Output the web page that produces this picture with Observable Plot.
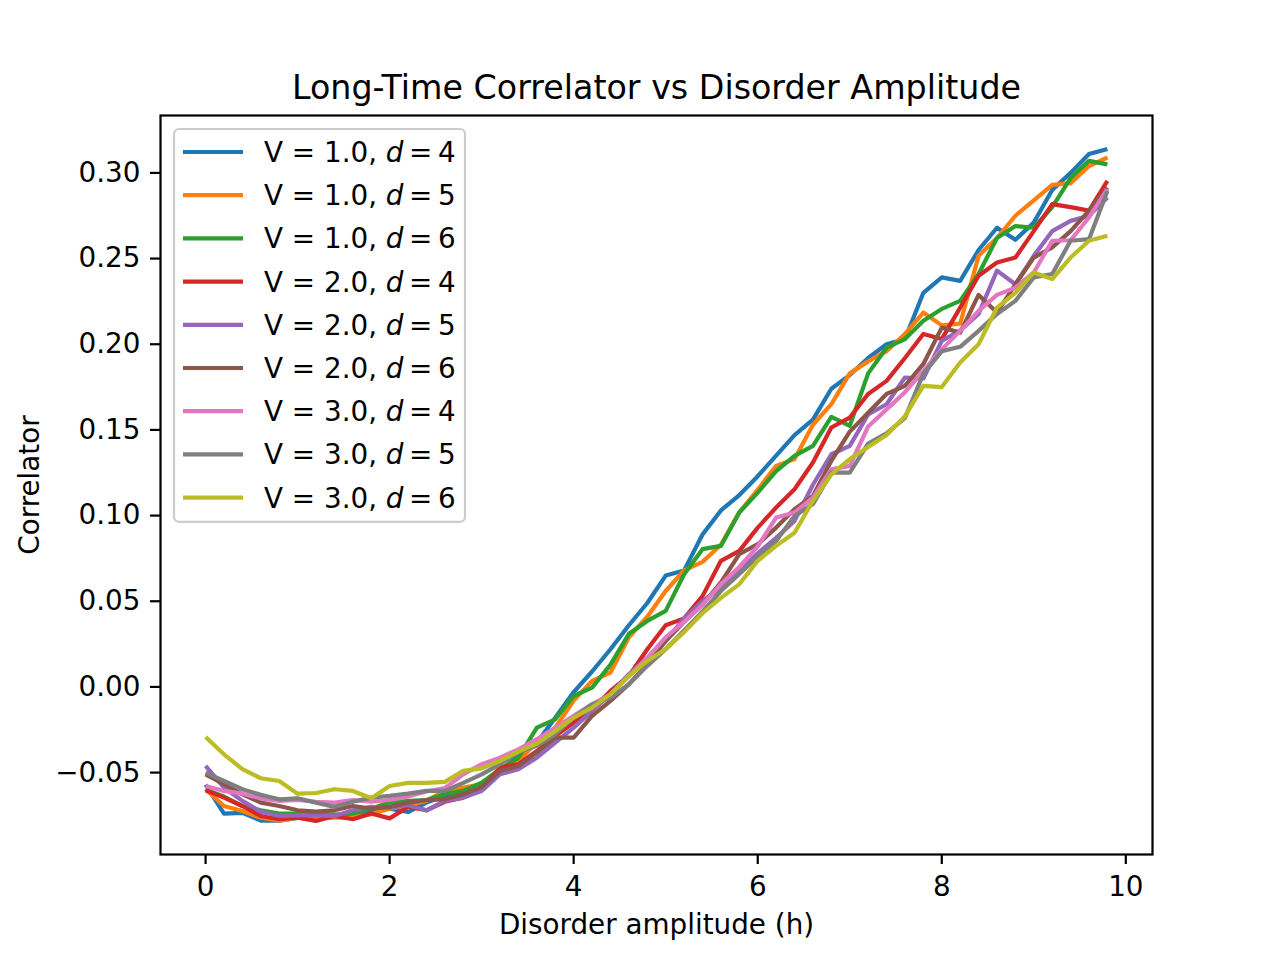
<!DOCTYPE html>
<html>
<head>
<meta charset="utf-8">
<script src="https://cdn.jsdelivr.net/npm/d3@7"></script>
<script src="https://cdn.jsdelivr.net/npm/@observablehq/plot@0.6"></script>
<style>
  html, body { margin: 0; padding: 0; background: white; }
  #chart { width: 1280px; height: 960px; }
</style>
</head>
<body>
<div id="chart"></div>
<script>
const title = "Long-Time Correlator vs Disorder Amplitude";
const xLabel = "Disorder amplitude (h)";
const yLabel = "Correlator";
const xTicks = [0, 2, 4, 6, 8, 10];
const yTicks = [-0.05, 0, 0.05, 0.10, 0.15, 0.20, 0.25, 0.30];

const hValues = d3.range(50).map(i => +(i * 0.2).toFixed(1));

const seriesV = [1.0, 1.0, 1.0, 2.0, 2.0, 2.0, 3.0, 3.0, 3.0];
const seriesD = [4, 5, 6, 4, 5, 6, 4, 5, 6];
const colors = ["#1f77b4", "#ff7f0e", "#2ca02c", "#d62728", "#9467bd", "#8c564b", "#e377c2", "#7f7f7f", "#bcbd22"];

const v1d4 = [-0.057, -0.074, -0.0735, -0.078, -0.078, -0.0765, -0.0755, -0.0755, -0.0735, -0.073,
  -0.071, -0.073, -0.0675, -0.0636, -0.061, -0.058, -0.049, -0.040, -0.0325, -0.018,
  -0.003, 0.009, 0.022, 0.036, 0.049, 0.065, 0.068, 0.089, 0.103, 0.112,
  0.123, 0.135, 0.147, 0.156, 0.174, 0.182, 0.192, 0.200, 0.203, 0.230,
  0.239, 0.237, 0.255, 0.268, 0.261, 0.271, 0.290, 0.300, 0.311, 0.314];
const v1d5 = [-0.0597, -0.0695, -0.0724, -0.0763, -0.078, -0.0763, -0.0767, -0.0763, -0.0763, -0.0743,
  -0.071, -0.069, -0.0665, -0.0607, -0.0588, -0.0568, -0.048, -0.0432, -0.032, -0.0238,
  -0.008, 0.0035, 0.0084, 0.029, 0.041, 0.056, 0.068, 0.073, 0.083, 0.102,
  0.115, 0.129, 0.133, 0.153, 0.165, 0.183, 0.190, 0.196, 0.206, 0.2185,
  0.211, 0.212, 0.2516, 0.262, 0.275, 0.284, 0.293, 0.294, 0.304, 0.309];
const v1d6 = [-0.060, -0.064, -0.0695, -0.072, -0.0739, -0.074, -0.0745, -0.0745, -0.074, -0.071,
  -0.0675, -0.0665, -0.066, -0.0626, -0.0607, -0.0559, -0.048, -0.0413, -0.0238, -0.0189,
  -0.0053, -0.0004, 0.013, 0.031, 0.0385, 0.0444, 0.0658, 0.0804, 0.0823, 0.1018,
  0.1134, 0.126, 0.1349, 0.1407, 0.1576, 0.1524, 0.183, 0.198, 0.203, 0.2137,
  0.2206, 0.2253, 0.241, 0.262, 0.269, 0.268, 0.280, 0.297, 0.307, 0.305];
const v2d4 = [-0.0603, -0.0646, -0.0695, -0.0753, -0.0772, -0.0763, -0.0782, -0.0753, -0.0772, -0.0739,
  -0.0767, -0.070, -0.072, -0.067, -0.0646, -0.0597, -0.047, -0.0451, -0.0374, -0.0286,
  -0.0208, -0.013, -0.0023, 0.0064, 0.022, 0.036, 0.040, 0.053, 0.0736, 0.0794,
  0.093, 0.1047, 0.1154, 0.131, 0.1514, 0.1572, 0.171, 0.1786, 0.192, 0.206,
  0.203, 0.2214, 0.240, 0.2477, 0.2506, 0.266, 0.2818, 0.280, 0.278, 0.2954];
const v2d5 = [-0.0461, -0.0588, -0.0665, -0.0728, -0.0753, -0.075, -0.075, -0.0753, -0.072, -0.070,
  -0.0705, -0.069, -0.072, -0.0665, -0.0646, -0.0607, -0.051, -0.048, -0.0413, -0.0325,
  -0.0238, -0.014, -0.0043, 0.0074, 0.017, 0.0268, 0.040, 0.050, 0.058, 0.068,
  0.078, 0.087, 0.0969, 0.118, 0.1358, 0.1407, 0.159, 0.165, 0.1806, 0.180,
  0.202, 0.208, 0.2177, 0.243, 0.235, 0.2516, 0.266, 0.272, 0.275, 0.2857];
const v2d6 = [-0.051, -0.0568, -0.0627, -0.0675, -0.0695, -0.072, -0.0728, -0.072, -0.0695, -0.071,
  -0.070, -0.0675, -0.066, -0.0656, -0.0626, -0.0584, -0.049, -0.0461, -0.0383, -0.0296,
  -0.0296, -0.0169, -0.0082, 0.0016, 0.0132, 0.0268, 0.038, 0.048, 0.061, 0.0775,
  0.0833, 0.093, 0.1037, 0.1115, 0.132, 0.149, 0.160, 0.171, 0.1757, 0.1885,
  0.2097, 0.2068, 0.2288, 0.2185, 0.235, 0.2506, 0.2565, 0.266, 0.278, 0.2915];
const v3d4 = [-0.0578, -0.0607, -0.0623, -0.065, -0.0665, -0.066, -0.067, -0.0675, -0.066, -0.067,
  -0.066, -0.064, -0.061, -0.059, -0.051, -0.0451, -0.0413, -0.0364, -0.0305, -0.0238,
  -0.0169, -0.0101, -0.0043, 0.0064, 0.017, 0.029, 0.038, 0.048, 0.060, 0.070,
  0.082, 0.0988, 0.1018, 0.1105, 0.127, 0.129, 0.152, 0.162, 0.172, 0.1845,
  0.197, 0.2078, 0.2195, 0.2288, 0.233, 0.2419, 0.2604, 0.2607, 0.274, 0.2905];
const v3d5 = [-0.050, -0.0549, -0.0597, -0.063, -0.0656, -0.065, -0.0675, -0.070, -0.067, -0.0646,
  -0.0636, -0.0623, -0.0607, -0.0607, -0.056, -0.051, -0.0451, -0.038, -0.0344, -0.0276,
  -0.018, -0.0101, -0.0063, 0.0016, 0.0123, 0.022, 0.033, 0.044, 0.056, 0.066,
  0.076, 0.0852, 0.0998, 0.1067, 0.1251, 0.1251, 0.142, 0.148, 0.157, 0.1827,
  0.196, 0.1985, 0.2078, 0.2177, 0.2253, 0.239, 0.241, 0.2604, 0.2613, 0.2895];
const v3d6 = [-0.0292, -0.0393, -0.048, -0.0533, -0.0549, -0.0623, -0.0619, -0.0597, -0.0607, -0.065,
  -0.0578, -0.056, -0.056, -0.0554, -0.049, -0.0475, -0.0432, -0.0378, -0.0331, -0.0257,
  -0.0179, -0.0121, -0.0043, 0.0064, 0.0152, 0.022, 0.032, 0.043, 0.052, 0.060,
  0.0736, 0.0823, 0.090, 0.1086, 0.124, 0.133, 0.140, 0.147, 0.158, 0.1757,
  0.175, 0.1893, 0.200, 0.2214, 0.230, 0.2419, 0.238, 0.2506, 0.2604, 0.2633];

const seriesValues = [v1d4, v1d5, v1d6, v2d4, v2d5, v2d6, v3d4, v3d5, v3d6];
const seriesKeys = seriesV.map((v, i) => `V = ${v.toFixed(1)}, d = ${seriesD[i]}`);

const data = seriesValues.flatMap((vals, i) =>
  vals.map((c, j) => ({ series: seriesKeys[i], h: hValues[j], c })));

const W = 1280, H = 960;
const mTop = 115, mRight = 128, mBottom = 106, mLeft = 160;
const font = "DejaVu Sans";
const fs = 27.8;

const chart = Plot.plot({
  width: W,
  height: H,
  marginTop: mTop,
  marginRight: mRight,
  marginBottom: mBottom,
  marginLeft: mLeft,
  style: { fontFamily: font, fontSize: fs + "px", background: "white", color: "black" },
  x: { domain: [-0.49, 10.29] },
  y: { domain: [-0.0978, 0.3335] },
  color: { domain: seriesKeys, range: colors },
  marks: [
    Plot.line(data, { x: "h", y: "c", stroke: "series", strokeWidth: 4.2, strokeLinejoin: "round", strokeLinecap: "butt" }),
    Plot.frame({ stroke: "black", strokeWidth: 2.2 }),
    Plot.axisX({ ticks: xTicks, tickSize: 10, tickPadding: 12, strokeWidth: 2.2, label: null, tickFormat: d => String(d), fontSize: fs }),
    Plot.axisY({ ticks: yTicks, tickSize: 10, tickPadding: 10, strokeWidth: 2.2, label: null, tickFormat: d3.format(".2f"), fontSize: fs }),
    Plot.text([xLabel], { text: d => d, frameAnchor: "bottom", lineAnchor: "middle", dy: 71, fontSize: fs }),
    Plot.text([yLabel], { text: d => d, frameAnchor: "left", textAnchor: "middle", lineAnchor: "middle", dx: -130, rotate: -90, fontSize: fs }),
    Plot.text([title], { text: d => d, frameAnchor: "top", lineAnchor: "middle", dy: -27, fontSize: 33.3 })
  ]
});

document.getElementById("chart").appendChild(chart);

// Legend (matplotlib-style, upper left inside the axes)
const svg = d3.select(chart);
const lg = svg.append("g").attr("font-family", font).attr("font-size", fs).attr("text-anchor", "start");
const lx = mLeft + 14, ly = mTop + 14;
const rowH = 43.2;
lg.append("rect")
  .attr("x", lx).attr("y", ly)
  .attr("width", 291).attr("height", rowH * seriesKeys.length + 4)
  .attr("rx", 5)
  .attr("fill", "white").attr("fill-opacity", 0.8)
  .attr("stroke", "#cccccc").attr("stroke-width", 2.2);
seriesKeys.forEach((k, i) => {
  const cy = ly + 23 + i * rowH;
  lg.append("line")
    .attr("x1", lx + 9).attr("x2", lx + 69)
    .attr("y1", cy).attr("y2", cy)
    .attr("stroke", colors[i]).attr("stroke-width", 4.2);
  const t = lg.append("text")
    .attr("x", lx + 90).attr("y", cy)
    .attr("dy", "0.36em")
    .attr("text-anchor", "start")
    .attr("fill", "black");
  t.append("tspan").text(`V = ${seriesV[i].toFixed(1)}, `);
  t.append("tspan").attr("font-style", "italic").text("d");
  t.append("tspan").text(`\u2009=\u2009${seriesD[i]}`);
});
</script>
</body>
</html>
